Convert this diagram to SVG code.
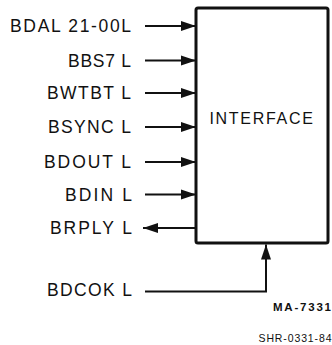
<svg xmlns="http://www.w3.org/2000/svg" width="332" height="345" viewBox="0 0 332 345">
<style>
.lbl{font-family:"Liberation Sans",Arial,sans-serif;font-size:17.5px;fill:#111;text-anchor:end}
.wire{stroke:#111;stroke-width:2;fill:none}
.small{font-family:"Liberation Sans",Arial,sans-serif;font-size:10.5px;fill:#111;text-anchor:end}
</style>
<defs>
<marker id="ah" markerUnits="userSpaceOnUse" markerWidth="16" markerHeight="12" viewBox="0 0 16 12" refX="15" refY="6" orient="auto">
<path d="M0,1 L15,6 L0,11 Z" fill="#111"/>
</marker>
</defs>
<rect width="332" height="345" fill="#fff"/>
<g id="interface">
<rect x="196" y="8" width="132" height="235" rx="2" fill="#fff" stroke="#111" stroke-width="3"/>
<text x="262" y="124" font-family="Liberation Sans,Arial,sans-serif" font-size="16" fill="#111" text-anchor="middle" letter-spacing="1.7">INTERFACE</text>
</g>
<g id="labels">
<text class="lbl" x="131" y="32" textLength="121" lengthAdjust="spacing">BDAL 21-00L</text>
<text class="lbl" x="131" y="66.5" textLength="63" lengthAdjust="spacing">BBS7 L</text>
<text class="lbl" x="131" y="99" textLength="84" lengthAdjust="spacing">BWTBT L</text>
<text class="lbl" x="131" y="133" textLength="83" lengthAdjust="spacing">BSYNC L</text>
<text class="lbl" x="131" y="168" textLength="87" lengthAdjust="spacing">BDOUT L</text>
<text class="lbl" x="132" y="200.5" textLength="67" lengthAdjust="spacing">BDIN L</text>
<text class="lbl" x="132" y="234" textLength="82" lengthAdjust="spacing">BRPLY L</text>
<text class="lbl" x="132" y="296" textLength="85" lengthAdjust="spacing">BDCOK L</text>
</g>
<g id="connectors">
<line class="wire" x1="145" y1="26" x2="196" y2="26" marker-end="url(#ah)"/>
<line class="wire" x1="145" y1="60.5" x2="196" y2="60.5" marker-end="url(#ah)"/>
<line class="wire" x1="145" y1="93" x2="196" y2="93" marker-end="url(#ah)"/>
<line class="wire" x1="145" y1="127" x2="196" y2="127" marker-end="url(#ah)"/>
<line class="wire" x1="145" y1="162" x2="196" y2="162" marker-end="url(#ah)"/>
<line class="wire" x1="145" y1="194.5" x2="196" y2="194.5" marker-end="url(#ah)"/>
<line class="wire" x1="196" y1="228" x2="143" y2="228" marker-end="url(#ah)"/>
<polyline class="wire" points="145,291.5 266,291.5 266,244.5" marker-end="url(#ah)"/>
</g>
<g id="captions">
<text class="small" x="331" y="310.5" style="font-size:11.5px;font-weight:bold" textLength="58" lengthAdjust="spacing">MA-7331</text>
<text class="small" x="331.5" y="341.5" textLength="73" lengthAdjust="spacing">SHR-0331-84</text>
</g>
</svg>
